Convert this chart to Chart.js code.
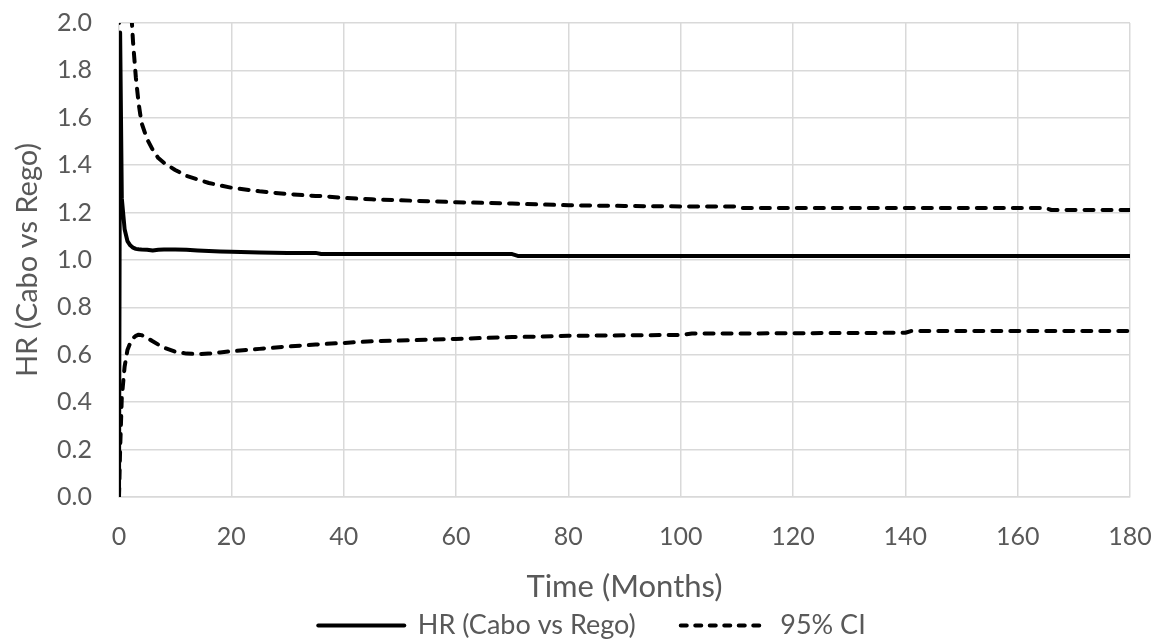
<!DOCTYPE html>
<html>
<head>
<meta charset="utf-8">
<script src="https://cdn.jsdelivr.net/npm/chart.js@4/dist/chart.umd.min.js"></script>
<style>
  html, body { margin: 0; padding: 0; background: #ffffff; }
  #wrap { width: 1162px; height: 639px; }
</style>
</head>
<body>
<div id="wrap"><canvas id="c" width="1162" height="639"></canvas></div>
<script>
// ---- Data ----
const months = [0, 0.2, 0.5, 1, 1.5, 2, 2.5, 3, 3.5, 4, 5, 6, 7, 8, 10, 12, 14, 16, 18, 20, 25, 30, 35, 36, 40, 45, 50, 60, 70, 71, 80, 90, 100, 102, 110, 111, 120, 130, 140, 141, 150, 160, 165, 166, 170, 180];

const hrValues = [0, 1.96, 1.26, 1.13, 1.08, 1.062, 1.052, 1.047, 1.045, 1.044, 1.043, 1.04, 1.043, 1.044, 1.044, 1.043, 1.04, 1.038, 1.036, 1.035, 1.032, 1.03, 1.03, 1.025, 1.025, 1.025, 1.025, 1.025, 1.025, 1.017, 1.017, 1.017, 1.017, 1.017, 1.017, 1.017, 1.017, 1.017, 1.017, 1.017, 1.017, 1.017, 1.017, 1.017, 1.017, 1.017];

const upperCI = [2.0, 9, 5.2, 3.4, 2.6, 2.12, 1.92, 1.77, 1.66, 1.58, 1.51, 1.465, 1.43, 1.41, 1.38, 1.355, 1.34, 1.325, 1.315, 1.305, 1.29, 1.278, 1.27, 1.27, 1.262, 1.256, 1.252, 1.244, 1.238, 1.237, 1.231, 1.228, 1.226, 1.226, 1.226, 1.219, 1.219, 1.219, 1.219, 1.219, 1.219, 1.219, 1.219, 1.211, 1.211, 1.211];

const lowerCI = [0, 0.2, 0.42, 0.55, 0.62, 0.65, 0.67, 0.68, 0.685, 0.683, 0.672, 0.657, 0.643, 0.63, 0.613, 0.605, 0.603, 0.605, 0.61, 0.615, 0.625, 0.635, 0.643, 0.645, 0.65, 0.657, 0.66, 0.667, 0.675, 0.675, 0.68, 0.682, 0.684, 0.69, 0.69, 0.69, 0.691, 0.692, 0.693, 0.70, 0.70, 0.70, 0.70, 0.70, 0.70, 0.70];

const xTickLabels = ['0', '20', '40', '60', '80', '100', '120', '140', '160', '180'];
const yTickLabels = ['0.0', '0.2', '0.4', '0.6', '0.8', '1.0', '1.2', '1.4', '1.6', '1.8', '2.0'];

const seriesNames = ['HR (Cabo vs Rego)', '95% CI'];
const xTitle = 'Time (Months)';
const yTitle = 'HR (Cabo vs Rego)';

// ---- Build chart ----
const toPoints = (xs, ys) => xs.map((x, i) => ({ x: x, y: ys[i] }));

const TEXT = '#595959';
const GRID = '#d9d9d9';
const FONT = 'Lato';
const LINE_W = 4;
const DASH = [9, 9];
const LEGEND_DASH = [6, 8.5];

const lineBase = {
  borderColor: '#000000',
  backgroundColor: '#000000',
  borderWidth: LINE_W,
  pointRadius: 0,
  pointHoverRadius: 0,
  tension: 0,
  fill: false,
  borderCapStyle: 'round',
  borderJoinStyle: 'round'
};

new Chart(document.getElementById('c'), {
  type: 'line',
  data: {
    datasets: [
      Object.assign({}, lineBase, { label: seriesNames[0], data: toPoints(months, hrValues) }),
      Object.assign({}, lineBase, { label: seriesNames[1], data: toPoints(months, upperCI), borderDash: DASH }),
      Object.assign({}, lineBase, { label: seriesNames[1] + ' lower', data: toPoints(months, lowerCI), borderDash: DASH })
    ]
  },
  options: {
    responsive: false,
    animation: false,
    events: [],
    layout: { padding: { left: 54, right: 32, top: 23, bottom: 0 } },
    plugins: {
      tooltip: { enabled: false },
      legend: {
        position: 'bottom',
        maxHeight: 72,
        labels: {
          usePointStyle: true,
          pointStyle: 'line',
          pointStyleWidth: 86,
          padding: 45,
          color: TEXT,
          font: { family: FONT, size: 27 },
          generateLabels: (chart) => {
            const items = Chart.defaults.plugins.legend.labels.generateLabels(chart);
            return items.filter((it) => it.datasetIndex < 2).map((it) => {
              const ds = chart.data.datasets[it.datasetIndex];
              it.lineDash = ds.borderDash ? LEGEND_DASH : [];
              it.lineWidth = LINE_W;
              it.strokeStyle = '#000000';
              it.fillStyle = '#000000';
              it.lineCap = 'round';
              it.pointStyle = 'line';
              return it;
            });
          }
        }
      }
    },
    scales: {
      x: {
        type: 'linear',
        min: 0,
        max: 180,
        afterFit: (s) => { s.height = 70; s.paddingLeft = 0; s.paddingRight = 0; },
        ticks: {
          stepSize: 20,
          padding: 25,
          color: TEXT,
          font: { family: FONT, size: 25 },
          callback: (v, i) => xTickLabels[i]
        },
        grid: { color: GRID, lineWidth: 1.5, drawTicks: false },
        border: { display: true, color: GRID, width: 1.5 },
        title: {
          display: true,
          text: xTitle,
          color: TEXT,
          font: { family: FONT, size: 31 },
          padding: { top: 0, bottom: -39 }
        }
      },
      y: {
        min: 0,
        max: 2,
        afterFit: (s) => { s.width = 65; s.paddingTop = 0; s.paddingBottom = 0; },
        ticks: {
          stepSize: 0.2,
          padding: 27,
          color: TEXT,
          font: { family: FONT, size: 25 },
          callback: (v, i) => yTickLabels[i]
        },
        grid: { color: GRID, lineWidth: 1.5, drawTicks: false },
        border: { display: false },
        title: {
          display: true,
          text: yTitle,
          color: TEXT,
          font: { family: FONT, size: 29 },
          padding: { top: -43.5, bottom: 0 }
        }
      }
    }
  }
});
</script>
</body>
</html>
